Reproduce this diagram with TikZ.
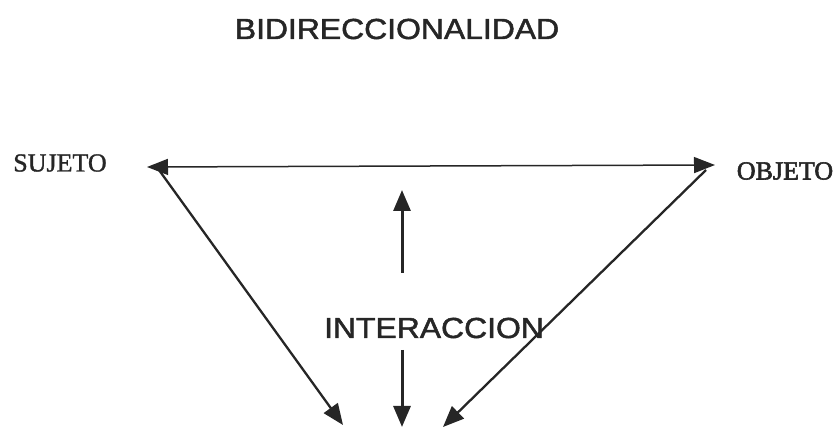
\documentclass[tikz,border=0pt]{standalone}
\usepackage{fontspec}
\setmainfont{Liberation Serif}
\setsansfont{Liberation Sans}
\newfontfamily\sansgrueso{Liberation Sans}[FakeBold=1.6]
\newfontfamily\seriflibre{Liberation Serif}[FakeBold=1.2]
\newfontfamily\serifgrueso{Liberation Serif}[FakeBold=2.2]
\usetikzlibrary{arrows.meta}
\definecolor{tinta}{RGB}{38,38,38}

\begin{document}
\begin{tikzpicture}[x=1pt,y=-1pt,
  flecha/.style={draw=tinta,-{Triangle[length=21pt,width=17pt]}},
  titulo/.style={font=\sansgrueso\fontsize{29}{30}\selectfont,text=tinta,xscale=1.1,inner sep=0pt},
  polo/.style={font=\seriflibre\fontsize{26}{28}\selectfont,text=tinta,inner sep=0pt}]
\useasboundingbox (0,0) rectangle (839,430);

\node[titulo] (bidir) at (397,29) {BIDIRECCIONALIDAD};
\node[polo] (sujeto) at (60,163) {SUJETO};
\node[polo,font=\serifgrueso\fontsize{26}{28}\selectfont] (objeto) at (785,171) {OBJETO};
\node[titulo] (inter) at (434,328) {INTERACCION};

\coordinate (sujpt) at (147,167);
\coordinate (objpt) at (715,165);
\coordinate (sujini) at (159,170);
\coordinate (objini) at (706,170);
\coordinate (baseL) at (343,425);
\coordinate (baseR) at (443,427);
\coordinate (arrA) at (402,273);
\coordinate (arrB) at (402,190);
\coordinate (abaA) at (402,350);
\coordinate (abaB) at (402,427);

\draw[flecha,{Triangle[length=21pt,width=16pt]}-{Triangle[length=21pt,width=16pt]},line width=1.5pt] (sujpt) -- (objpt);
\draw[flecha,line width=2.3pt] (sujini) -- (baseL);
\draw[flecha,line width=2.3pt] (objini) -- (baseR);
\draw[flecha,line width=3pt] (arrA) -- (arrB);
\draw[flecha,line width=3pt] (abaA) -- (abaB);
\end{tikzpicture}
\end{document}
